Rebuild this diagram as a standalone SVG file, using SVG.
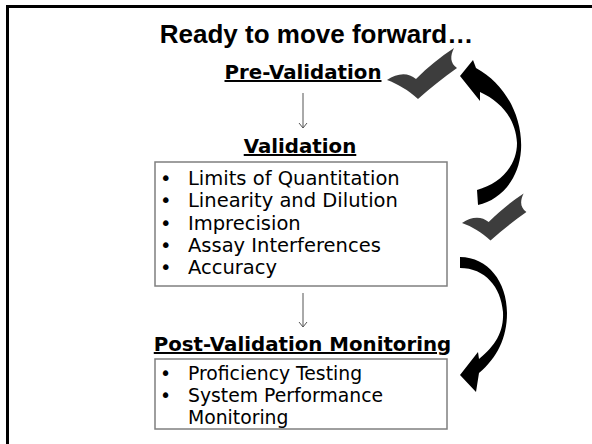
<svg xmlns="http://www.w3.org/2000/svg" width="592" height="444" viewBox="0 0 592 444">
  <defs>
    <style>
      .title { font-family: "Liberation Sans", Arial, sans-serif; font-weight: bold; font-size: 26px; fill: #000; }
      .head { font-family: "DejaVu Sans", Verdana, sans-serif; font-weight: bold; font-size: 19.8px; fill: #000; text-decoration: underline; }
      .item { font-family: "DejaVu Sans", Verdana, sans-serif; font-size: 19.5px; fill: #000; }
      .item2 { font-family: "DejaVu Sans", Verdana, sans-serif; font-size: 18.8px; fill: #000; }
      .box { fill: #fff; stroke: #7f7f7f; stroke-width: 1.5; }
      .conn { stroke: #555; stroke-width: 1; fill: none; }
      .check { fill: #3d3d3d; }
      .curve { fill: #000; }
    </style>
    <marker id="vhead" viewBox="0 0 10 10" refX="9" refY="5" markerWidth="10" markerHeight="10" markerUnits="userSpaceOnUse" orient="auto">
      <path d="M4,1 L9,5 L4,9" fill="none" stroke="#555" stroke-width="1"/>
    </marker>
    <path id="checkmark" class="check" d="M387,80 C397,73 408,72 416,79 C428,67 440,57 454,48 C450,56 450,63 457,68 C443,78 430,88 418,99 C408,90 398,84 387,80 Z"/>
  </defs>

  <rect x="0" y="0" width="592" height="444" fill="#fff"/>
  <rect x="7.5" y="6.5" width="600" height="460" fill="none" stroke="#000" stroke-width="3"/>

  <text class="title" x="316.5" y="43" text-anchor="middle">Ready to move forward…</text>

  <g id="pre-validation">
    <text class="head" x="303" y="79" text-anchor="middle">Pre-Validation</text>
    <use href="#checkmark"/>
  </g>

  <g id="validation">
    <text class="head" x="300" y="153" text-anchor="middle">Validation</text>
    <rect class="box" x="155" y="162" width="292" height="124"/>
    <g class="item">
      <text x="160" y="185">•</text><text x="188" y="185">Limits of Quantitation</text>
      <text x="160" y="207">•</text><text x="188" y="207">Linearity and Dilution</text>
      <text x="160" y="230">•</text><text x="188" y="230">Imprecision</text>
      <text x="160" y="252">•</text><text x="188" y="252">Assay Interferences</text>
      <text x="160" y="274">•</text><text x="188" y="274">Accuracy</text>
    </g>
    <use href="#checkmark" transform="translate(462,223) scale(0.92) translate(-387,-80)"/>
  </g>

  <g id="post-validation">
    <text class="head" x="302.5" y="351" text-anchor="middle">Post-Validation Monitoring</text>
    <rect class="box" x="155" y="359" width="292" height="70"/>
    <g class="item2">
      <text x="160" y="380">•</text><text x="188" y="380">Proficiency Testing</text>
      <text x="160" y="402">•</text><text x="188" y="402">System Performance</text>
      <text x="188" y="424">Monitoring</text>
    </g>
  </g>

  <g id="connectors">
    <line class="conn" x1="303" y1="93" x2="303" y2="128" marker-end="url(#vhead)"/>
    <line class="conn" x1="303" y1="293" x2="303" y2="327" marker-end="url(#vhead)"/>
    <path class="curve" d="M478,205 C500,200 519,180 521,150 C523,118 506,84 476,68 L473,60 L460,76 L480,101 L480,92 C502,102 516,120 517,143 C517,166 500,184 477,190 Z"/>
    <path class="curve" d="M460,257 C488,257 507,282 507,313 C507,338 497,358 479,373 L476,392 L460,375 L478,352 L479,359 C495,346 504,332 503,312 C501,287 485,268 460,268 Z"/>
  </g>
</svg>
